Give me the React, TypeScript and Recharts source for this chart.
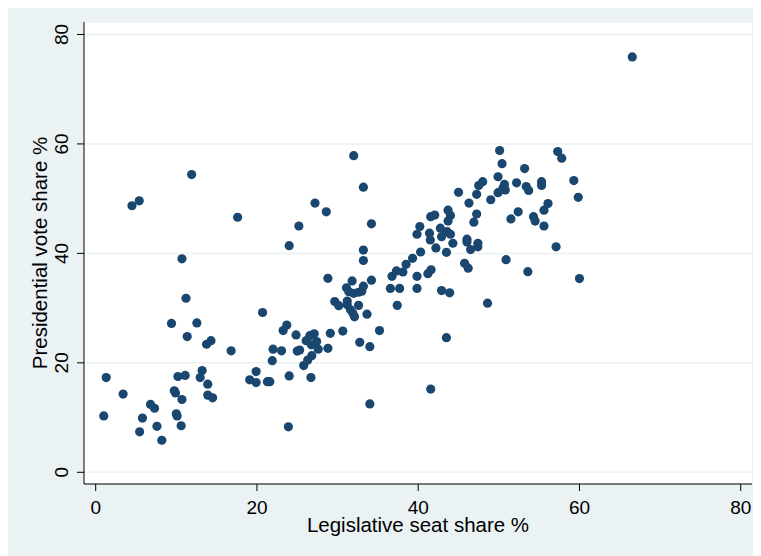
import React from 'react';
import { ScatterChart, Scatter, XAxis, YAxis, CartesianGrid } from 'recharts';

// Legislative seat share % (x) and Presidential vote share % (y)
const legislativeSeatShare = [
  1.0, 1.3, 3.4, 4.5, 5.4, 5.45, 5.8, 6.8, 7.3, 7.6, 8.2, 9.4, 9.75, 9.9, 10.0, 10.1, 10.2, 10.6, 10.7, 10.7,
  11.1, 11.2, 11.35, 11.9, 12.55, 12.96, 13.2, 13.75, 13.9, 13.9, 14.3, 14.5, 16.8, 17.6, 19.1, 19.9, 19.9, 20.7, 21.3, 21.6,
  21.9, 22.0, 23.05, 23.25, 23.7, 23.9, 24.0, 24.0, 24.85, 25.0, 25.3, 25.2, 25.8, 26.1, 26.3, 26.55, 26.7, 26.75, 26.8, 27.1,
  27.2, 27.4, 27.6, 28.6, 28.8, 28.8, 29.1, 29.65, 30.15, 30.65, 31.1, 31.2, 31.2, 31.6, 31.8, 31.9, 32.0, 32.1, 32.6, 32.75,
  33.2, 33.2, 33.2, 33.2, 33.65, 34.0, 34.0, 34.2, 34.2, 35.2, 31.4, 32.0, 32.6, 33.0,
  36.55, 36.75, 37.3, 37.4, 37.7, 38.1, 38.5, 39.3, 39.85, 39.85, 39.85, 40.2, 40.3, 41.2, 41.4, 41.5, 41.55, 41.55, 41.6, 42.05,
  42.2, 42.75, 42.9, 42.9, 43.5, 43.5, 43.6, 43.7, 43.7, 44.0, 44.0, 43.9, 44.3, 45.0, 45.75, 46.05, 46.05, 46.2, 46.3, 46.5,
  46.9, 47.25, 47.25, 47.4, 47.4, 47.5, 48.0, 48.6, 49.0, 49.9, 49.9, 50.1, 50.4, 50.5, 50.7, 50.8, 50.9, 51.5, 52.2, 52.4,
  53.2, 53.4, 53.6, 53.7, 54.3, 54.5, 55.3, 55.3, 55.6, 55.6, 56.1, 57.1, 57.3, 57.8, 59.3, 59.85, 60.0, 66.55,
];

const presidentialVoteShare = [
  10.3, 17.3, 14.3, 48.7, 49.6, 7.4, 9.9, 12.4, 11.7, 8.4, 5.85, 27.2, 14.9, 14.5, 10.7, 10.3, 17.5, 8.5, 13.3, 39.0,
  17.7, 31.8, 24.8, 54.4, 27.3, 17.3, 18.6, 23.4, 16.1, 14.1, 24.05, 13.6, 22.2, 46.6, 16.9, 18.4, 16.4, 29.2, 16.55, 16.55,
  20.4, 22.5, 22.2, 25.9, 26.9, 8.3, 17.6, 41.4, 25.1, 22.15, 22.35, 45.0, 19.5, 24.05, 20.5, 24.96, 17.3, 23.3, 21.3, 25.3,
  49.2, 23.9, 22.5, 47.6, 35.45, 22.65, 25.4, 31.2, 30.45, 25.8, 33.7, 31.3, 30.6, 29.7, 34.96, 29.05, 57.85, 28.4, 30.5, 23.75,
  52.1, 40.6, 38.7, 34.0, 28.9, 22.95, 12.5, 45.4, 35.1, 25.9, 33.0, 32.7, 32.9, 33.1,
  33.6, 35.8, 36.8, 30.5, 33.6, 36.6, 38.0, 39.1, 33.6, 35.8, 43.5, 44.9, 40.25, 36.3, 43.7, 42.45, 46.7, 15.2, 37.0, 47.0,
  41.0, 44.6, 43.05, 33.2, 40.2, 24.6, 43.97, 47.9, 45.9, 46.9, 43.5, 32.8, 41.85, 51.15, 38.2, 42.6, 42.1, 37.3, 49.2, 40.7,
  45.7, 47.2, 50.8, 41.85, 41.2, 52.4, 53.1, 30.9, 49.8, 54.0, 51.1, 58.8, 56.4, 51.9, 52.6, 51.6, 38.85, 46.3, 52.9, 47.6,
  55.5, 52.2, 36.65, 51.5, 46.7, 45.9, 53.1, 52.4, 47.9, 45.0, 49.1, 41.2, 58.6, 57.4, 53.3, 50.25, 35.4, 75.9,
];

const axisTicks = [0, 20, 40, 60, 80];
const xAxisTitle = 'Legislative seat share %';
const yAxisTitle = 'Presidential vote share %';

const data = legislativeSeatShare.map((x, i) => ({ x, y: presidentialVoteShare[i] }));

const FONT = '"Liberation Sans", Arial, sans-serif';
const MARKER = '#1A476F';
const BG = '#EAF2F3';

const XTick = (props: any) => {
  const { x, y, payload } = props;
  return (
    <text x={x} y={y + 21} textAnchor="middle" fontFamily={FONT} fontSize={19} fill="#000">
      {payload.value}
    </text>
  );
};

const YTick = (props: any) => {
  const { x, y, payload } = props;
  return (
    <text
      x={x}
      y={y}
      transform={`rotate(-90 ${x} ${y})`}
      textAnchor="middle"
      fontFamily={FONT}
      fontSize={19}
      fill="#000"
    >
      {payload.value}
    </text>
  );
};

const XTitle = (props: any) => {
  const vb = props.viewBox;
  const cx = vb.x + vb.width / 2;
  return (
    <text x={cx} y={530} textAnchor="middle" fontFamily={FONT} fontSize={20.5} fill="#000">
      {xAxisTitle}
    </text>
  );
};

const YTitle = (props: any) => {
  const vb = props.viewBox;
  const cy = vb.y + vb.height / 2;
  const x = 39;
  return (
    <text
      x={x}
      y={cy}
      transform={`rotate(-90 ${x} ${cy})`}
      textAnchor="middle"
      fontFamily={FONT}
      fontSize={20.5}
      fill="#000"
    >
      {yAxisTitle}
    </text>
  );
};

const Dot = (props: any) => {
  const { cx, cy } = props;
  return <circle cx={cx} cy={cy} r={4.6} fill={MARKER} />;
};

export default function App() {
  return (
    <div style={{ width: 752, height: 554, marginTop: -6, background: BG }}>
      <ScatterChart width={752} height={554} margin={{ top: 20, right: 8, bottom: 0, left: 0 }}>
        <CartesianGrid horizontal vertical={false} stroke={BG} strokeWidth={1.5} fill="#FFFFFF" fillOpacity={1} />
        <XAxis
          type="number"
          dataKey="x"
          domain={[-1.45, 81.4]}
          ticks={axisTicks}
          allowDataOverflow
          height={72}
          tickSize={7}
          tickMargin={2}
          axisLine={{ stroke: '#000', strokeWidth: 1 }}
          tickLine={{ stroke: '#000', strokeWidth: 1 }}
          tick={<XTick />}
          label={<XTitle />}
        />
        <YAxis
          type="number"
          dataKey="y"
          domain={[-2.14, 82.28]}
          ticks={axisTicks}
          allowDataOverflow
          width={76}
          tickSize={7}
          tickMargin={9}
          axisLine={{ stroke: '#000', strokeWidth: 1 }}
          tickLine={{ stroke: '#000', strokeWidth: 1 }}
          tick={<YTick />}
          label={<YTitle />}
        />
        <Scatter data={data} shape={<Dot />} isAnimationActive={false} />
      </ScatterChart>
    </div>
  );
}
